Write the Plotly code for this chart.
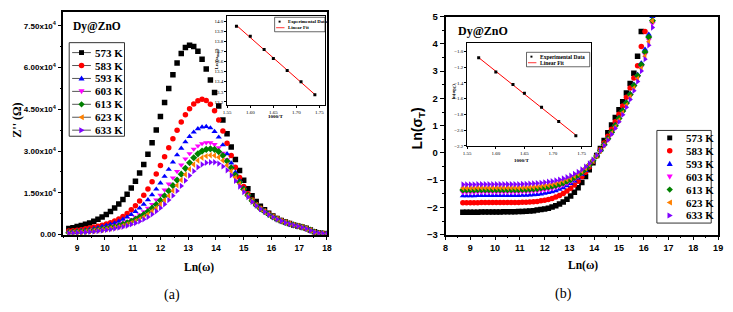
import numpy as np
import plotly.graph_objects as go

W, H = 733, 312
def px(x): return x / W
def py(y): return 1 - y / H

# ---------------- data ----------------
ln_omega = [8.70, 8.85, 9.00, 9.15, 9.30, 9.45, 9.60, 9.75, 9.90, 10.05,
            10.20, 10.35, 10.50, 10.65, 10.80, 10.95, 11.10, 11.25, 11.40, 11.55,
            11.70, 11.85, 12.00, 12.15, 12.30, 12.45, 12.60, 12.75, 12.90, 13.05,
            13.20, 13.35, 13.50, 13.65, 13.80, 13.95, 14.10, 14.25, 14.40, 14.55,
            14.70, 14.85, 15.00, 15.15, 15.30, 15.45, 15.60, 15.75, 15.90, 16.05,
            16.20, 16.35, 16.50, 16.65, 16.80, 16.95, 17.10, 17.25, 17.40, 17.55,
            17.70, 17.85, 18.00]

temps = ["573 K", "583 K", "593 K", "603 K", "613 K", "623 K", "633 K"]

# Z'' in units of 1e4 ohm
zpp_573 = [0.22,0.25,0.29,0.33,0.37,0.42,0.48,0.55,0.63,0.72,
           0.83,0.96,1.10,1.26,1.45,1.67,1.92,2.21,2.52,2.89,
           3.30,3.76,4.24,4.74,5.25,5.74,6.16,6.50,6.72,6.80,
           6.75,6.58,6.30,5.95,5.55,5.10,4.62,4.12,3.62,3.15,
           2.70,2.30,1.95,1.65,1.40,1.19,1.02,0.89,0.77,0.67,
           0.58,0.51,0.45,0.40,0.35,0.31,0.27,0.23,0.17,0.10,
           0.06,0.04,0.03]
zpp_583 = [0.13,0.14,0.16,0.18,0.21,0.24,0.27,0.30,0.34,0.38,
           0.43,0.49,0.56,0.65,0.76,0.89,1.04,1.21,1.41,1.64,
           1.90,2.18,2.48,2.80,3.12,3.44,3.75,4.04,4.30,4.52,
           4.69,4.81,4.86,4.82,4.68,4.45,4.12,3.72,3.28,2.84,
           2.42,2.05,1.73,1.47,1.25,1.08,0.95,0.85,0.75,0.66,
           0.58,0.51,0.45,0.40,0.35,0.31,0.27,0.22,0.16,0.09,
           0.05,0.04,0.03]
zpp_593 = [0.10,0.11,0.13,0.15,0.17,0.19,0.22,0.25,0.29,0.33,
           0.37,0.42,0.48,0.55,0.63,0.72,0.83,0.95,1.09,1.25,
           1.43,1.63,1.85,2.09,2.34,2.60,2.86,3.10,3.33,3.52,
           3.68,3.80,3.86,3.88,3.83,3.70,3.50,3.22,2.90,2.57,
           2.24,1.94,1.67,1.43,1.23,1.07,0.94,0.84,0.74,0.65,
           0.57,0.50,0.44,0.39,0.35,0.31,0.27,0.22,0.16,0.09,
           0.05,0.04,0.03]
zpp_603 = [0.08,0.09,0.10,0.12,0.13,0.15,0.17,0.19,0.22,0.25,
           0.28,0.32,0.37,0.42,0.48,0.55,0.63,0.72,0.83,0.95,
           1.09,1.25,1.42,1.61,1.82,2.04,2.27,2.50,2.72,2.91,
           3.07,3.19,3.27,3.30,3.30,3.24,3.12,2.93,2.69,2.42,
           2.14,1.87,1.62,1.40,1.21,1.06,0.93,0.83,0.73,0.64,
           0.56,0.49,0.44,0.39,0.35,0.31,0.27,0.22,0.16,0.09,
           0.05,0.04,0.03]
zpp_613 = [0.07,0.08,0.09,0.10,0.12,0.13,0.15,0.17,0.19,0.22,
           0.25,0.28,0.32,0.37,0.42,0.48,0.55,0.63,0.72,0.83,
           0.95,1.08,1.23,1.39,1.57,1.76,1.96,2.17,2.38,2.58,
           2.76,2.90,3.00,3.06,3.08,3.06,2.98,2.84,2.64,2.40,
           2.14,1.88,1.63,1.41,1.22,1.06,0.93,0.83,0.73,0.64,
           0.56,0.49,0.44,0.39,0.35,0.31,0.27,0.22,0.16,0.09,
           0.05,0.04,0.03]
zpp_623 = [0.06,0.07,0.08,0.09,0.10,0.12,0.13,0.15,0.17,0.19,
           0.22,0.25,0.28,0.32,0.37,0.42,0.48,0.55,0.63,0.73,
           0.84,0.96,1.09,1.24,1.40,1.58,1.77,1.96,2.16,2.35,
           2.52,2.66,2.76,2.82,2.85,2.84,2.78,2.66,2.49,2.28,
           2.05,1.82,1.59,1.39,1.21,1.06,0.93,0.83,0.73,0.64,
           0.56,0.49,0.44,0.39,0.35,0.31,0.27,0.22,0.16,0.09,
           0.05,0.04,0.03]
zpp_633 = [0.05,0.06,0.07,0.08,0.09,0.10,0.11,0.13,0.15,0.17,
           0.19,0.22,0.25,0.28,0.32,0.37,0.42,0.48,0.55,0.63,
           0.73,0.84,0.96,1.09,1.24,1.40,1.57,1.75,1.94,2.12,
           2.28,2.42,2.52,2.58,2.60,2.60,2.55,2.45,2.31,2.13,
           1.93,1.73,1.53,1.35,1.18,1.04,0.92,0.82,0.72,0.63,
           0.55,0.49,0.43,0.38,0.34,0.30,0.26,0.21,0.15,0.09,
           0.05,0.04,0.03]

# Ln(sigma_T) values (same frequency grid, until curves leave the frame)
lnsig_573 = [-2.18,-2.18,-2.18,-2.18,-2.18,-2.17,-2.17,-2.17,-2.17,-2.17,
             -2.17,-2.16,-2.16,-2.16,-2.16,-2.15,-2.15,-2.14,-2.13,-2.12,
             -2.10,-2.08,-2.06,-2.03,-1.99,-1.94,-1.88,-1.80,-1.70,-1.58,
             -1.44,-1.28,-1.09,-0.87,-0.62,-0.36,-0.10,0.16,0.45,0.74,
             1.02,1.30,1.58,1.88,2.20,2.55,2.92,3.55,4.45,5.30]
lnsig_583 = [-1.83,-1.83,-1.83,-1.83,-1.83,-1.82,-1.82,-1.82,-1.82,-1.82,
             -1.82,-1.82,-1.82,-1.82,-1.82,-1.82,-1.81,-1.81,-1.80,-1.79,
             -1.78,-1.76,-1.74,-1.71,-1.67,-1.62,-1.56,-1.49,-1.40,-1.30,
             -1.18,-1.04,-0.88,-0.71,-0.52,-0.32,-0.11,0.12,0.36,0.61,
             0.87,1.14,1.42,1.72,2.04,2.38,2.75,3.20,3.90,4.45,
             5.15]
lnsig_593 = [-1.58,-1.58,-1.58,-1.58,-1.57,-1.57,-1.57,-1.57,-1.57,-1.57,
             -1.57,-1.57,-1.57,-1.57,-1.57,-1.57,-1.56,-1.56,-1.55,-1.54,
             -1.53,-1.51,-1.49,-1.46,-1.43,-1.39,-1.34,-1.28,-1.21,-1.13,
             -1.04,-0.93,-0.80,-0.65,-0.48,-0.30,-0.10,0.10,0.32,0.55,
             0.79,1.04,1.30,1.58,1.87,2.18,2.52,2.88,3.30,3.80,
             4.35,5.00,5.60]
lnsig_603 = [-1.45,-1.45,-1.45,-1.45,-1.44,-1.44,-1.44,-1.44,-1.44,-1.44,
             -1.44,-1.44,-1.44,-1.44,-1.44,-1.44,-1.43,-1.43,-1.42,-1.41,
             -1.40,-1.38,-1.36,-1.34,-1.31,-1.27,-1.23,-1.18,-1.12,-1.05,
             -0.97,-0.87,-0.76,-0.63,-0.48,-0.31,-0.12,0.08,0.29,0.51,
             0.74,0.98,1.23,1.50,1.79,2.09,2.42,2.77,3.16,3.62,
             4.15,4.75,5.40]
lnsig_613 = [-1.36,-1.36,-1.36,-1.36,-1.35,-1.35,-1.35,-1.35,-1.35,-1.35,
             -1.35,-1.35,-1.35,-1.35,-1.35,-1.35,-1.34,-1.34,-1.33,-1.32,
             -1.31,-1.29,-1.27,-1.25,-1.22,-1.19,-1.15,-1.10,-1.04,-0.98,
             -0.90,-0.81,-0.71,-0.59,-0.45,-0.29,-0.11,0.09,0.30,0.52,
             0.76,1.00,1.26,1.54,1.83,2.14,2.47,2.83,3.23,3.70,
             4.25,4.85,5.50]
lnsig_623 = [-1.29,-1.29,-1.29,-1.29,-1.28,-1.28,-1.28,-1.28,-1.28,-1.28,
             -1.28,-1.28,-1.28,-1.28,-1.28,-1.28,-1.27,-1.27,-1.26,-1.25,
             -1.24,-1.22,-1.20,-1.18,-1.15,-1.12,-1.08,-1.03,-0.98,-0.92,
             -0.85,-0.77,-0.67,-0.56,-0.43,-0.28,-0.11,0.08,0.28,0.49,
             0.72,0.95,1.20,1.47,1.75,2.05,2.37,2.72,3.10,3.55,
             4.08,4.85,5.40]
lnsig_633 = [-1.16,-1.16,-1.16,-1.16,-1.15,-1.15,-1.15,-1.15,-1.15,-1.15,
             -1.15,-1.15,-1.15,-1.15,-1.15,-1.15,-1.14,-1.14,-1.13,-1.12,
             -1.11,-1.10,-1.08,-1.06,-1.04,-1.01,-0.98,-0.94,-0.89,-0.84,
             -0.77,-0.70,-0.61,-0.51,-0.39,-0.25,-0.09,0.08,0.27,0.47,
             0.68,0.90,1.14,1.40,1.67,1.96,2.28,2.62,3.00,3.44,
             3.95,4.60,5.20]

# insets
inv_T = [1.57, 1.60, 1.63, 1.65, 1.68, 1.71, 1.74]
ln_omega_max = [13.95, 13.85, 13.72, 13.63, 13.51, 13.40, 13.27]
ln_sigma_dc = [-1.08, -1.26, -1.42, -1.53, -1.71, -1.89, -2.07]

# ---------------- styles ----------------
colors = ["#000000", "#FF0000", "#0000FF", "#FF00FF", "#008000", "#FF8000", "#8000FF"]
symbols = ["square", "circle", "triangle-up", "triangle-down", "diamond",
           "triangle-left", "triangle-right"]

zpp = [zpp_573, zpp_583, zpp_593, zpp_603, zpp_613, zpp_623, zpp_633]
lnsig = [lnsig_573, lnsig_583, lnsig_593, lnsig_603, lnsig_613, lnsig_623, lnsig_633]

SERIF = "Liberation Serif"
SANS = "Liberation Sans"

fig = go.Figure()

for name, c, s, z in zip(temps, colors, symbols, zpp):
    fig.add_trace(go.Scatter(
        x=ln_omega[:len(z)], y=np.array(z) * 1e4, mode="markers", name=name,
        marker=dict(symbol=s, color=c, size=5.5, line=dict(width=0)),
        xaxis="x", yaxis="y", showlegend=False))

for name, c, s, v in zip(temps, colors, symbols, lnsig):
    fig.add_trace(go.Scatter(
        x=ln_omega[:len(v)], y=v, mode="markers", name=name,
        marker=dict(symbol=s, color=c, size=5.5, line=dict(width=0)),
        xaxis="x2", yaxis="y2", showlegend=False))

def add_inset(yvals, xa, ya):
    coef = np.polyfit(inv_T, yvals, 1)
    xf = [min(inv_T), max(inv_T)]
    fig.add_trace(go.Scatter(x=xf, y=np.polyval(coef, xf), mode="lines",
                             line=dict(color="#FF0000", width=1),
                             xaxis=xa, yaxis=ya, showlegend=False))
    fig.add_trace(go.Scatter(x=inv_T, y=yvals, mode="markers",
                             marker=dict(symbol="square", color="black", size=3),
                             xaxis=xa, yaxis=ya, showlegend=False))

add_inset(ln_omega_max, "x3", "y3")
add_inset(ln_sigma_dc, "x4", "y4")

axis_common = dict(showgrid=False, zeroline=False, showline=True, linecolor="black",
                   mirror=True, ticks="outside", tickcolor="black")

def main_ax(domain, rng, dtick, tick0, tsize, lw=1.5):
    return dict(axis_common, domain=domain, range=rng, tickmode="linear", dtick=dtick,
                tick0=tick0, linewidth=lw, ticklen=4, tickwidth=1.2,
                tickfont=dict(family=SANS, size=tsize, color="black", weight="bold"),
                minor=dict(ticks="outside", ticklen=2, tickwidth=1, dtick=dtick / 2,
                           tick0=tick0, tickcolor="black"))

def inset_ax(domain, rng, dtick, tick0, fmt, tsize):
    return dict(axis_common, domain=domain, range=rng, tickmode="linear", dtick=dtick,
                tick0=tick0, tickformat=fmt, linewidth=1, ticklen=2, tickwidth=0.8,
                tickfont=dict(family=SERIF, size=tsize, color="black"))

yticks_a = [0, 1.5e4, 3.0e4, 4.5e4, 6.0e4, 7.5e4]
yticktext_a = ["0.00"] + ["%.2fx10<sup>4</sup>" % (v / 1e4) for v in yticks_a[1:]]

fig.update_layout(
    width=W, height=H, margin=dict(l=0, r=0, t=0, b=0), autosize=False,
    paper_bgcolor="white", plot_bgcolor="white",
    xaxis=main_ax([px(60), px(327)], [8.5, 18], 1, 9, 8.5),
    yaxis=dict(main_ax([py(237), py(6)], [0, 8.0e4], 1.5e4, 0, 8),
               tickmode="array", tickvals=yticks_a, ticktext=yticktext_a,
               minor=dict(ticks="outside", ticklen=2, tickwidth=1, dtick=0.75e4,
                          tick0=0, tickcolor="black")),
    xaxis2=dict(main_ax([px(447), px(723)], [8, 19], 1, 8, 9), anchor="y2"),
    yaxis2=dict(main_ax([py(237), py(11)], [-3, 5], 1, -3, 9.5), anchor="x2"),
    xaxis3=dict(inset_ax([px(226), px(325)], [1.55, 1.762], 0.05, 1.55, ".2f", 5), anchor="y3"),
    yaxis3=dict(inset_ax([py(103), py(10)], [13.165, 14.055], 0.1, 13.2, ".1f", 5), anchor="x3"),
    xaxis4=dict(inset_ax([px(469), px(594)], [1.55, 1.766], 0.05, 1.55, ".2f", 5), anchor="y4"),
    yaxis4=dict(inset_ax([py(145), py(38)], [-2.2, -0.887], 0.2, -2.2, ".1f", 5), anchor="x4"),
)

ann = []
shapes = []

def text(x, y, t, size, family=SERIF, xanchor="center", yanchor="middle", angle=0,
         color="black", **kw):
    ann.append(dict(x=px(x), y=py(y), xref="paper", yref="paper", text=t,
                    showarrow=False, xanchor=xanchor, yanchor=yanchor, textangle=angle,
                    font=dict(family=family, size=size, color=color), **kw))

def pth(points):
    return "M " + " L ".join("%.5f %.5f" % (px(a), py(b)) for a, b in points) + " Z"

def legend_symbol(sym, cx, cy, color, r=2.8):
    base = dict(xref="paper", yref="paper", fillcolor=color, line=dict(width=0),
                layer="above")
    if sym == "square":
        shapes.append(dict(base, type="rect", x0=px(cx - r * 0.9), x1=px(cx + r * 0.9),
                           y0=py(cy + r * 0.9), y1=py(cy - r * 0.9)))
    elif sym == "circle":
        shapes.append(dict(base, type="circle", x0=px(cx - r), x1=px(cx + r),
                           y0=py(cy + r), y1=py(cy - r)))
    else:
        pts = {
            "triangle-up": [(cx, cy - r * 1.1), (cx + r * 1.1, cy + r * 0.8), (cx - r * 1.1, cy + r * 0.8)],
            "triangle-down": [(cx, cy + r * 1.1), (cx + r * 1.1, cy - r * 0.8), (cx - r * 1.1, cy - r * 0.8)],
            "diamond": [(cx, cy - r * 1.15), (cx + r * 1.15, cy), (cx, cy + r * 1.15), (cx - r * 1.15, cy)],
            "triangle-left": [(cx - r * 1.1, cy), (cx + r * 0.8, cy - r * 1.1), (cx + r * 0.8, cy + r * 1.1)],
            "triangle-right": [(cx + r * 1.1, cy), (cx - r * 0.8, cy - r * 1.1), (cx - r * 0.8, cy + r * 1.1)],
        }[sym]
        shapes.append(dict(base, type="path", path=pth(pts)))

# titles
text(68, 21, "<b>Dy@ZnO</b>", 11.5, xanchor="left")
text(458, 26, "<b>Dy@ZnO</b>", 12, xanchor="left")
text(197, 271, "<b>Ln(ω)</b>", 11.5)
text(586, 269, "<b>Ln(ω)</b>", 11.5)
text(13, 118, "<b>Z'' (Ω)</b>", 12, angle=-90)
text(419, 127, "<b>Ln(σ<sub>T</sub>)</b>", 14, family=SANS, angle=-90)
text(170, 300, "(a)", 14)
text(566, 299, "(b)", 14)

# inset titles
text(275, 115, "<b>1000/T</b>", 5)
text(216, 55, "<b>Ln (ω<sub>max</sub>)</b>", 5, angle=-90)
text(524, 160, "<b>1000/T</b>", 5)
text(455, 88, "<b>ln(σ<sub>DC</sub>)</b>", 5, angle=-90)

# inset legends
for (x0, x1, y0, y1, fs) in [(274, 325, 11.7, 26.7, 4.8), (529, 593, 48, 63, 5.5)]:
    shapes.append(dict(type="rect", xref="paper", yref="paper", x0=px(x0), x1=px(x1),
                       y0=py(y1), y1=py(y0), line=dict(color="black", width=0.6),
                       fillcolor="white", layer="above"))
    ya = y0 + (y1 - y0) * 0.3
    yb = y0 + (y1 - y0) * 0.72
    shapes.append(dict(type="rect", xref="paper", yref="paper", x0=px(x0 + 4), x1=px(x0 + 6),
                       y0=py(ya + 1), y1=py(ya - 1), fillcolor="black", line=dict(width=0),
                       layer="above"))
    shapes.append(dict(type="line", xref="paper", yref="paper", x0=px(x0 + 1.5), x1=px(x0 + 10),
                       y0=py(yb), y1=py(yb), line=dict(color="#FF0000", width=0.8),
                       layer="above"))
    text(x0 + 12, ya, "<b>Experimental Data</b>", fs, xanchor="left")
    text(x0 + 12, yb, "<b>Linear Fit</b>", fs, xanchor="left")

# main legends (drawn manually)
shapes.append(dict(type="rect", xref="paper", yref="paper", x0=px(66), x1=px(122),
                   y0=py(135), y1=py(38), line=dict(color="#333333", width=1)))
shapes.append(dict(type="rect", xref="paper", yref="paper", x0=px(661), x1=px(716),
                   y0=py(225), y1=py(129), line=dict(color="#333333", width=1)))
for i, (name, c, s) in enumerate(zip(temps, colors, symbols)):
    yl = 48.3 + 13.4 * i
    shapes.append(dict(type="line", xref="paper", yref="paper", x0=px(69), x1=px(88),
                       y0=py(yl), y1=py(yl), line=dict(color="#555555", width=1)))
    legend_symbol(s, 78.5, yl, c)
    text(90, yl, "<b>%s</b>" % name, 11, xanchor="left")
    yr = 136.7 + 13.4 * i
    legend_symbol(s, 674, yr, c)
    text(688, yr, "<b>%s</b>" % name, 11, xanchor="left")

fig.update_layout(annotations=ann, shapes=shapes)
fig.write_html("out.html", config={"displayModeBar": False},
               post_script="document.body.style.margin='0';document.body.style.overflow='hidden';")
